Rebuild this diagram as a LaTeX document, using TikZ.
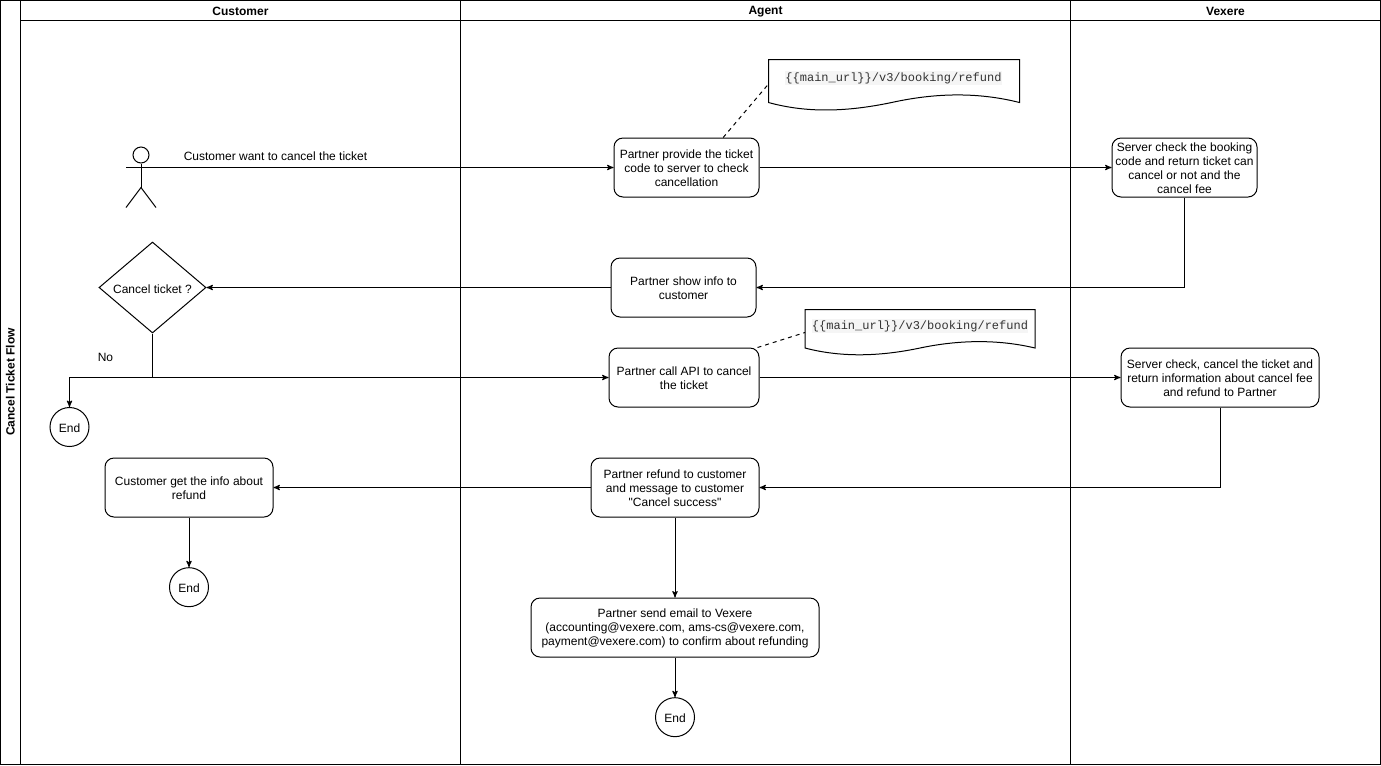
\documentclass[tikz,border=0pt]{standalone}
\usepackage{fontspec}
\setmainfont{Liberation Sans}[Ligatures=TeXOff]
\setmonofont{Liberation Mono}
\usepackage{tikz}
\usetikzlibrary{positioning, arrows, shapes.geometric}

\definecolor{urlback}{HTML}{F5F5F5}
\definecolor{urltext}{HTML}{333333}
\newcommand{\boxtop}{\rule{0pt}{7.8pt}}
\tikzset{
    every node/.style={font=\fontsize{9}{10.5}\selectfont, execute at begin node={\rule{0pt}{8.6pt}}},
    flowbox/.style={draw, rectangle, rounded corners=6.75pt, align=center, inner sep=0pt, minimum height=44.25pt},
    endnode/.style={draw, circle, inner sep=0pt, minimum size=29.25pt},
    lanetitle/.style={font=\fontsize{9}{10.5}\selectfont\bfseries},
    urlnode/.style={fill=urlback, text=urltext, inner sep=0pt, minimum height=10.5pt, font=\fontsize{9}{10.5}\selectfont\ttfamily}
}

\begin{document}
\begin{tikzpicture}[x=0.75pt, y=-0.75pt, line width=0.75pt, >=stealth']
        \useasboundingbox (0,0) rectangle (1381,765);

        % Lanes
        \draw (0.5,0.5) rectangle (1380.5,764.5);
        \draw (20.5,0.5) -- (20.5,764.5);
        \draw (20.5,20.5) -- (1380.5,20.5);
        \draw (460.5,0.5) -- (460.5,764.5);
        \draw (1070.5,0.5) -- (1070.5,764.5);
        \node (flowTitle) [lanetitle, rotate=90] at (9,382) {Cancel Ticket Flow};
        \node (customerTitle) [lanetitle] at (240.5,10) {Customer};
        \node (agentTitle) [lanetitle] at (765.5,10) {Agent};
        \node (vexereTitle) [lanetitle] at (1225.5,10) {Vexere};

        % Actor
        \node (actorHead) [draw, circle, inner sep=0pt, minimum size=12pt] at (141,155) {};
        \coordinate (actorArm) at (126,167.5);
        \coordinate (actorHip) at (141,187.5);
        \draw (actorHead) -- (actorHip);
        \draw (actorArm) -- (156,167.5);
        \draw (126,207.5) -- (actorHip) -- (156,207.5);

        % Notes
        \draw (768.5,59.5) -- (1019.5,59.5) -- (1019.5,102.5) .. controls (978,92) and (936,93) .. (894,102) .. controls (852,111) and (810,114) .. (768.5,102.5) -- cycle;
        \draw (805,309.5) -- (1035,309.5) -- (1035,348) .. controls (997,339) and (958,340) .. (920,348) .. controls (882,356) and (843,358) .. (805,348) -- cycle;
        \node (urlA) [urlnode] at (893.5,77.5) {\{\{main\_url\}\}/v3/booking/refund};
        \node (urlB) [urlnode] at (920,325.5) {\{\{main\_url\}\}/v3/booking/refund};
        \coordinate (noteA) at (768.5,84);
        \coordinate (noteB) at (805,332.5);

        % Nodes
        \node (provide) [flowbox, minimum width=108.75pt] at (686.5,167.5) {\boxtop Partner provide the ticket\\code to server to check\\cancellation};
        \node (check) [flowbox, minimum width=108.75pt, right of=provide, node distance=373.5pt] {\boxtop Server check the booking\\code and return ticket can\\cancel or not and the\\cancel fee};
        \node (show) [flowbox, minimum width=108.75pt, below of=provide, node distance=90pt, xshift=-2.25pt] {\boxtop Partner show info to\\customer};
        \node (decide) [draw, diamond, aspect=1.19, inner sep=0pt, minimum width=80.25pt, minimum height=68.25pt, left of=show, node distance=398.25pt] {Cancel ticket ?};
        \node (callapi) [flowbox, minimum width=112.5pt, below of=show, node distance=67.5pt, xshift=0.375pt] {\boxtop Partner call API to cancel\\the ticket};
        \node (cancel) [flowbox, minimum width=148.5pt, right of=callapi, node distance=402pt] {\boxtop Server check, cancel the ticket and\\return information about cancel fee\\and refund to Partner};
        \node (refund) [flowbox, minimum width=126pt, below of=callapi, node distance=82.5pt, xshift=-6.75pt] {\boxtop Partner refund to customer\\and message to customer\\"Cancel success"};
        \node (getinfo) [flowbox, minimum width=126pt, left of=refund, node distance=364.5pt] {\boxtop Customer get the info about\\refund};
        \node (email) [flowbox, minimum width=216pt, below of=refund, node distance=105pt] {\boxtop Partner send email to Vexere\\(accounting@vexere.com, ams-cs@vexere.com,\\payment@vexere.com) to confirm about refunding};
        \node (endA) [endnode] at (69.5,427) {End};
        \node (endB) [endnode, below of=getinfo, node distance=74.75pt] {End};
        \node (endC) [endnode, below of=email, node distance=67.25pt] {End};
        \coordinate (branch) at (152.5,377.5);

        % Labels
        \node (wantLabel) at (275.5,154.5) {Customer want to cancel the ticket};
        \node (noLabel) at (105.5,355.5) {No};

        % Arrows
        \draw[->] (actorArm) -- (provide);
        \draw[->] (provide) -- (check);
        \draw[->] (check.south) |- (show.east);
        \draw[->] (show) -- (decide);
        \draw (decide.south) -- (branch);
        \draw[->] (branch) -- (callapi);
        \draw[->] (branch) -| (endA.north);
        \draw[->] (callapi) -- (cancel);
        \draw[->] (cancel.south) |- (refund.east);
        \draw[->] (refund) -- (getinfo);
        \draw[->] (getinfo) -- (endB);
        \draw[->] (refund) -- (email);
        \draw[->] (email) -- (endC);

        % Dashed links
        \draw[dashed] (provide.north) ++(27.5pt,0pt) -- (noteA);
        \draw[dashed] (callapi.north east) ++(-1.5pt,0pt) -- (noteB);
    \end{tikzpicture}
\end{document}
